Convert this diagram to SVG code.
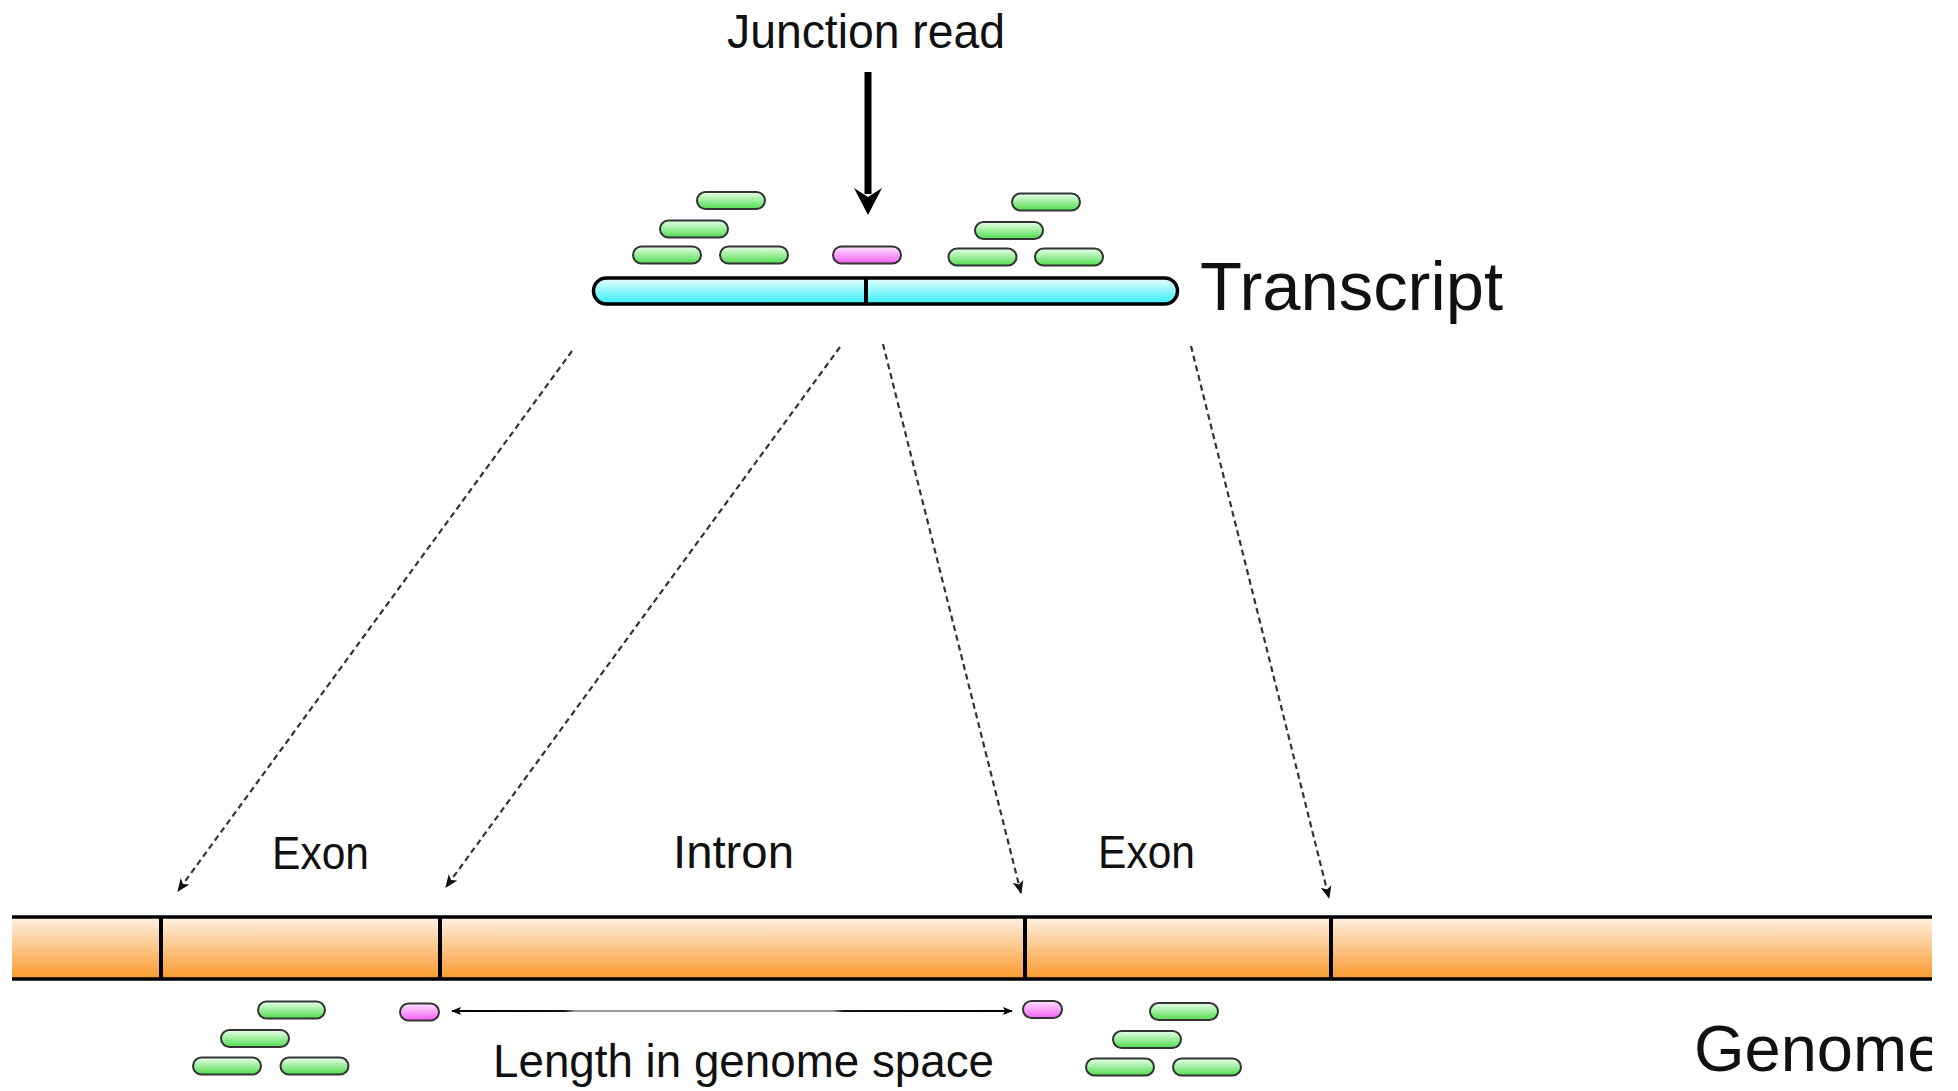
<svg xmlns="http://www.w3.org/2000/svg" width="1958" height="1091" viewBox="0 0 1958 1091">
  <style>
    .lbl { font-family: "Liberation Sans", Arial, sans-serif; fill: #111; }
    .read { stroke: #333; stroke-width: 2; fill: url(#gGreen); }
    .jread { stroke: #333; stroke-width: 2; fill: url(#gPink); }
    .map { fill: none; stroke: #333; stroke-width: 2.2; stroke-dasharray: 6 4; marker-end: url(#stealth); }
    .div { stroke: #000; stroke-width: 4; }
  </style>
  <defs>
    <linearGradient id="gGreen" x1="0" y1="0" x2="0" y2="1">
      <stop offset="0" stop-color="#eaffea"/>
      <stop offset="1" stop-color="#4fdc4f"/>
    </linearGradient>
    <linearGradient id="gPink" x1="0" y1="0" x2="0" y2="1">
      <stop offset="0" stop-color="#ffe4ff"/>
      <stop offset="1" stop-color="#f25ef2"/>
    </linearGradient>
    <linearGradient id="gCyan" x1="0" y1="0" x2="0" y2="1">
      <stop offset="0" stop-color="#eaffff"/>
      <stop offset="1" stop-color="#33eef8"/>
    </linearGradient>
    <linearGradient id="gOrange" x1="0" y1="0" x2="0" y2="1">
      <stop offset="0" stop-color="#fff1e4"/>
      <stop offset="1" stop-color="#f99a2c"/>
    </linearGradient>
    <linearGradient id="gLen" gradientUnits="userSpaceOnUse" x1="452" y1="0" x2="1012" y2="0">
      <stop offset="0" stop-color="#000"/>
      <stop offset="0.2" stop-color="#111"/>
      <stop offset="0.22" stop-color="#999"/>
      <stop offset="0.68" stop-color="#999"/>
      <stop offset="0.7" stop-color="#111"/>
      <stop offset="1" stop-color="#000"/>
    </linearGradient>
    <marker id="stealth" viewBox="0 0 12 10" refX="11" refY="5" markerWidth="13" markerHeight="11" markerUnits="userSpaceOnUse" orient="auto">
      <path d="M0,0 L12,5 L0,10 L3,5 z" fill="#111"/>
    </marker>
    <marker id="smallHead" viewBox="0 0 10 8" refX="9" refY="4" markerWidth="10" markerHeight="8" markerUnits="userSpaceOnUse" orient="auto-start-reverse">
      <path d="M0,0 L10,4 L0,8 L2,4 z" fill="#000"/>
    </marker>
    <clipPath id="clipRight">
      <rect x="0" y="0" width="1932" height="1091"/>
    </clipPath>
  </defs>

  <g id="junction-label">
    <text class="lbl" x="727" y="48" font-size="48" textLength="278" lengthAdjust="spacingAndGlyphs">Junction read</text>
  </g>

  <g id="junction-arrow">
    <rect x="864.5" y="72" width="7" height="122" fill="#000"/>
    <polygon points="854,188 868,197 882,188 868,215" fill="#000"/>
  </g>

  <g id="transcript">
    <rect x="593.5" y="278" width="584" height="26" rx="13" ry="13" fill="url(#gCyan)" stroke="#000" stroke-width="3.5"/>
    <line class="div" x1="866" y1="278" x2="866" y2="304"/>
    <text class="lbl" x="1200" y="310" font-size="69" textLength="303" lengthAdjust="spacingAndGlyphs">Transcript</text>
  </g>

  <g id="transcript-reads">
    <rect class="read" x="697" y="192" width="68" height="17" rx="8.5"/>
    <rect class="read" x="660" y="220.5" width="68" height="17" rx="8.5"/>
    <rect class="read" x="633" y="246.5" width="68" height="17" rx="8.5"/>
    <rect class="read" x="720" y="246.5" width="68" height="17" rx="8.5"/>
    <rect class="jread" x="833" y="246.5" width="68" height="17" rx="8.5"/>
    <rect class="read" x="1012" y="193.5" width="68" height="17" rx="8.5"/>
    <rect class="read" x="975" y="222" width="68" height="17" rx="8.5"/>
    <rect class="read" x="948.5" y="248.5" width="68" height="17" rx="8.5"/>
    <rect class="read" x="1035" y="248.5" width="68" height="17" rx="8.5"/>
  </g>

  <g id="connectors">
    <line class="map" x1="572" y1="351" x2="178" y2="891"/>
    <line class="map" x1="840" y1="347" x2="446" y2="887"/>
    <line class="map" x1="883" y1="344" x2="1021" y2="893"/>
    <line class="map" x1="1191" y1="346" x2="1329" y2="898"/>
  </g>

  <g id="exon-labels">
    <text class="lbl" x="272" y="869" font-size="46" textLength="97" lengthAdjust="spacingAndGlyphs">Exon</text>
    <text class="lbl" x="673" y="868" font-size="47" textLength="121" lengthAdjust="spacingAndGlyphs">Intron</text>
    <text class="lbl" x="1098" y="868" font-size="46" textLength="97" lengthAdjust="spacingAndGlyphs">Exon</text>
  </g>

  <g id="genome">
    <rect x="12" y="917" width="1920" height="62" fill="url(#gOrange)"/>
    <line x1="12" y1="917" x2="1932" y2="917" stroke="#000" stroke-width="3.5"/>
    <line x1="12" y1="979" x2="1932" y2="979" stroke="#000" stroke-width="3.5"/>
    <line class="div" x1="161" y1="917" x2="161" y2="979"/>
    <line class="div" x1="440" y1="917" x2="440" y2="979"/>
    <line class="div" x1="1025" y1="917" x2="1025" y2="979"/>
    <line class="div" x1="1331" y1="917" x2="1331" y2="979"/>
    <g clip-path="url(#clipRight)">
      <text class="lbl" x="1694" y="1071" font-size="65">Genome</text>
    </g>
  </g>

  <g id="genome-reads">
    <rect class="read" x="258" y="1001.5" width="67" height="17" rx="8.5"/>
    <rect class="read" x="221" y="1030" width="68" height="17" rx="8.5"/>
    <rect class="read" x="193" y="1057.5" width="68" height="17" rx="8.5"/>
    <rect class="read" x="280.5" y="1057.5" width="68" height="17" rx="8.5"/>
    <rect class="jread" x="400" y="1003.5" width="39" height="17" rx="8.5"/>
    <rect class="jread" x="1023" y="1001" width="39" height="17" rx="8.5"/>
    <rect class="read" x="1150" y="1003" width="68" height="17" rx="8.5"/>
    <rect class="read" x="1113" y="1031" width="68" height="17" rx="8.5"/>
    <rect class="read" x="1086" y="1058.5" width="68" height="17" rx="8.5"/>
    <rect class="read" x="1173" y="1058.5" width="68" height="17" rx="8.5"/>
  </g>

  <g id="length-span">
    <line x1="452" y1="1011" x2="1012" y2="1011" stroke="url(#gLen)" stroke-width="1.8" marker-start="url(#smallHead)" marker-end="url(#smallHead)"/>
    <text class="lbl" x="493" y="1077" font-size="46" textLength="501" lengthAdjust="spacingAndGlyphs">Length in genome space</text>
  </g>
</svg>
